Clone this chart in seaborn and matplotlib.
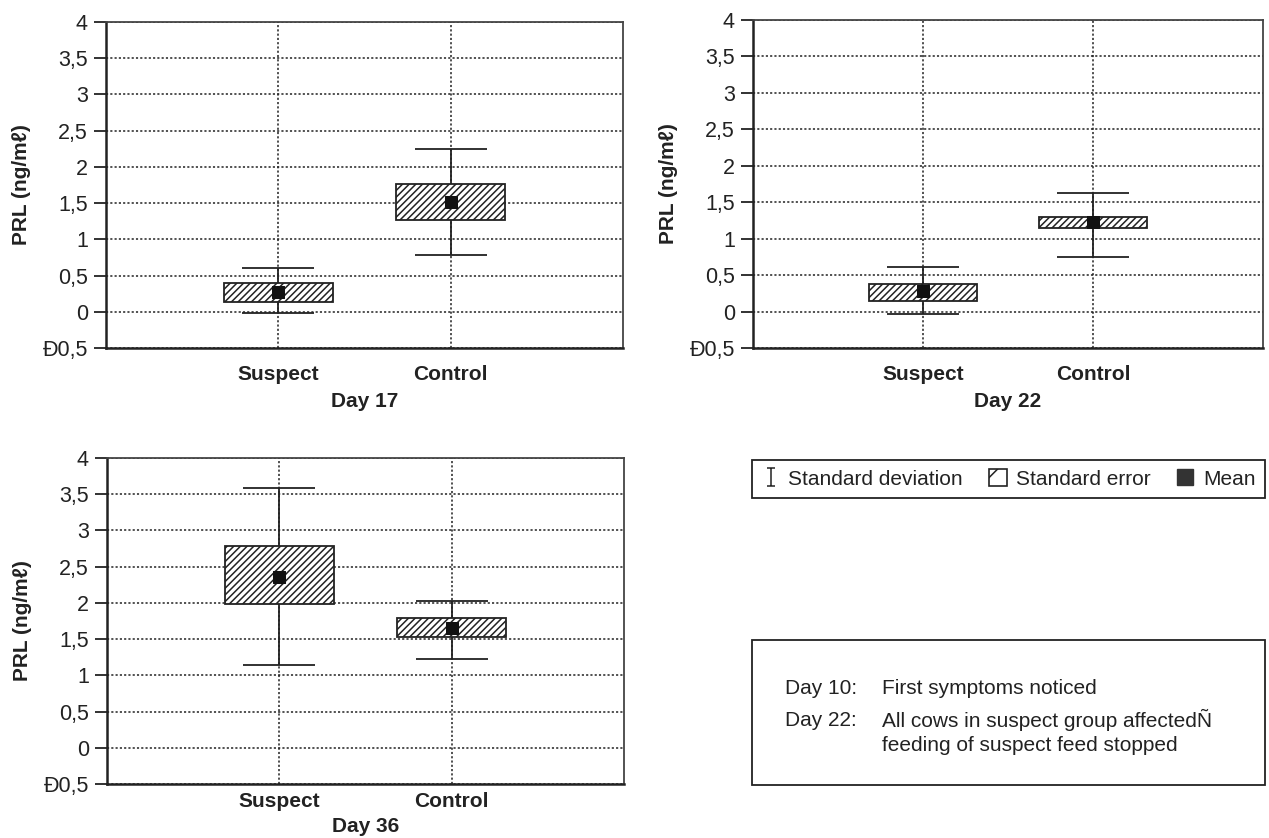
import numpy as np
import matplotlib
matplotlib.use("Agg")
import matplotlib.pyplot as plt
import seaborn as sns
from matplotlib.patches import Patch, Rectangle
from matplotlib.lines import Line2D
from matplotlib.path import Path

groups = ["Suspect", "Control"]

# Day 17
d17_mean = [0.27, 1.51]
d17_se_low = [0.14, 1.27]
d17_se_high = [0.40, 1.76]
d17_sd_low = [-0.02, 0.79]
d17_sd_high = [0.61, 2.25]

# Day 22
d22_mean = [0.28, 1.23]
d22_se_low = [0.14, 1.14]
d22_se_high = [0.38, 1.30]
d22_sd_low = [-0.03, 0.75]
d22_sd_high = [0.61, 1.62]

# Day 36
d36_mean = [2.36, 1.66]
d36_se_low = [1.99, 1.53]
d36_se_high = [2.79, 1.79]
d36_sd_low = [1.14, 1.23]
d36_sd_high = [3.59, 2.02]

ytick_labels = ["Ð0,5", "0", "0,5", "1", "1,5", "2", "2,5", "3", "3,5", "4"]

sns.set_style("white")
plt.rcParams['font.family'] = ['Liberation Sans', 'DejaVu Sans']
plt.rcParams['hatch.linewidth'] = 1.1

INK = '#222222'
W, H = 1269, 838
fig = plt.figure(figsize=(W / 100, H / 100), dpi=100)


def px_axes(left, right, top, bottom):
    return fig.add_axes([left / W, 1 - bottom / H, (right - left) / W, (bottom - top) / H])


def panel(ax, mean, se_low, se_high, sd_low, sd_high, title, tickpad, labelpad):
    x = np.arange(len(groups))
    mean = np.array(mean)
    se_low = np.array(se_low)
    se_high = np.array(se_high)
    ax.errorbar(x, mean, yerr=[mean - np.array(sd_low), np.array(sd_high) - mean],
                fmt='none', ecolor=INK, elinewidth=1.3, capsize=26, capthick=1.3, zorder=2)
    ax.bar(x, se_high - se_low, bottom=se_low, width=0.63, color='white',
           edgecolor=INK, hatch='/////', linewidth=1.3, zorder=3)
    sns.scatterplot(x=x, y=mean, marker='s', s=85, color='#111111',
                    edgecolor='#111111', zorder=4, ax=ax, legend=False)
    ax.set_xlim(-1, 2)
    ax.set_ylim(-0.5, 4)
    ax.set_xticks(x)
    ax.set_xticklabels(groups, fontsize=15, fontweight='bold', color=INK)
    yt = np.arange(len(ytick_labels)) * 0.5 - 0.5
    ax.set_yticks(yt)
    ax.set_yticklabels(ytick_labels, fontsize=15.5, color=INK)
    ax.tick_params(axis='y', direction='out', length=9, width=1.3, pad=4, color=INK, left=True)
    ax.tick_params(axis='x', length=0, pad=tickpad)
    ax.grid(True, color=INK, linestyle=(0, (1.4, 1.4)), linewidth=1.1)
    ax.set_axisbelow(True)
    for s in ['left', 'bottom']:
        ax.spines[s].set_color(INK)
        ax.spines[s].set_linewidth(1.8)
    for s in ['top', 'right']:
        ax.spines[s].set_color('#444444')
        ax.spines[s].set_linewidth(1.3)
    ax.set_ylabel("PRL (ng/mℓ)", fontsize=15, fontweight='bold', color=INK, labelpad=8)
    ax.set_xlabel(title, fontsize=15, fontweight='bold', color=INK, labelpad=labelpad)


ax1 = px_axes(106, 623, 22, 348)
panel(ax1, d17_mean, d17_se_low, d17_se_high, d17_sd_low, d17_sd_high, "Day 17", 12, 6)
ax2 = px_axes(753, 1263, 20, 348)
panel(ax2, d22_mean, d22_se_low, d22_se_high, d22_sd_low, d22_sd_high, "Day 22", 12, 6)
ax3 = px_axes(107, 624, 458, 784)
panel(ax3, d36_mean, d36_se_low, d36_se_high, d36_sd_low, d36_sd_high, "Day 36", 6, 4)

# legend
ibeam = Path([(-0.45, -1), (0.45, -1), (0, -1), (0, 1), (-0.45, 1), (0.45, 1)],
             [Path.MOVETO, Path.LINETO, Path.MOVETO, Path.LINETO, Path.MOVETO, Path.LINETO])
handles = [
    Line2D([], [], linestyle='none', marker=ibeam, markersize=13, markerfacecolor='none',
           markeredgecolor=INK, markeredgewidth=1.1),
    Patch(facecolor='white', edgecolor=INK, hatch='/', linewidth=1.2),
    Line2D([], [], linestyle='none', marker='s', markersize=12, color='#333333'),
]
labels = ["Standard deviation", "Standard error", "Mean"]
lx0, lx1, ly0, ly1 = 752, 1265, 456, 502
leg = fig.legend(handles, labels, loc='center', ncol=3, mode='expand',
                 bbox_to_anchor=(lx0 / W, 1 - ly1 / H, (lx1 - lx0) / W, (ly1 - ly0) / H),
                 frameon=True, fancybox=False, edgecolor=INK, borderaxespad=0,
                 fontsize=15, handlelength=0.9, handleheight=0.9, handletextpad=0.4,
                 borderpad=0.45, framealpha=1)
leg.get_frame().set_linewidth(1.3)
for t in leg.get_texts():
    t.set_color(INK)

# notes box
bx0, bx1, by0, by1 = 752, 1265, 640, 785
fig.add_artist(Rectangle((bx0 / W, 1 - by1 / H), (bx1 - bx0) / W, (by1 - by0) / H,
                         transform=fig.transFigure, fill=False, edgecolor=INK, linewidth=1.3))
notes = [
    (688, "Day 10:", "First symptoms noticed"),
    (720, "Day 22:", "All cows in suspect group affectedÑ"),
    (745, "", "feeding of suspect feed stopped"),
]
for yy, day, txt in notes:
    if day:
        fig.text(785 / W, 1 - yy / H, day, fontsize=15, va='center', ha='left', color=INK)
    fig.text(882 / W, 1 - yy / H, txt, fontsize=15, va='center', ha='left', color=INK)

fig.savefig("out.png", dpi=100)
